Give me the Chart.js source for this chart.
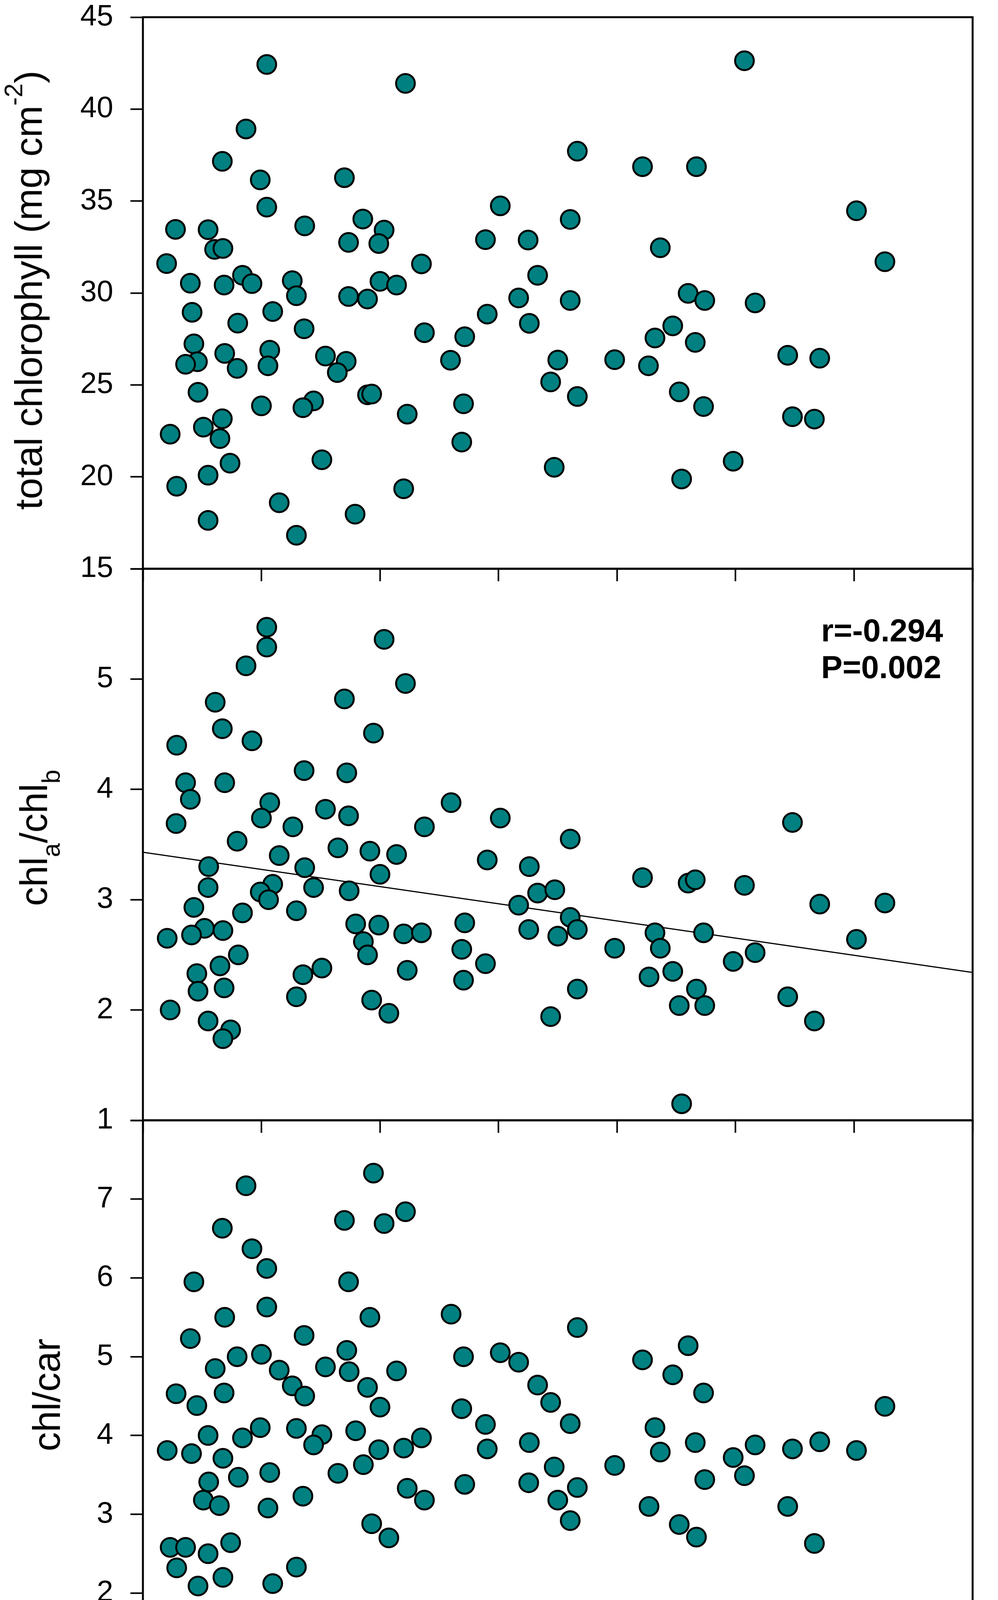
<!DOCTYPE html>
<html>
<head>
<meta charset="utf-8">
<script src="https://cdn.jsdelivr.net/npm/chart.js@4.4.1/dist/chart.umd.min.js"></script>
<style>
  html, body { margin: 0; padding: 0; background: #fff; }
  #wrap { position: relative; width: 2556px; height: 4652px; background: #fff; overflow: hidden; }
  canvas { position: absolute; left: 0; }
  .t { position: absolute; font-family: 'Liberation Sans', Arial, Helvetica, sans-serif; color: #000; white-space: nowrap; }
  .ytitle { font-size: 98px; line-height: 98px; transform: translate(-50%, -50%) rotate(-90deg); }
  .xtitle { font-size: 98px; line-height: 98px; transform: translateX(-50%); }
  .sup { font-size: 64px; line-height: 0; position: relative; top: -50px; }
  .sub { font-size: 64px; line-height: 0; position: relative; top: 33px; }
  .stat { font-size: 82px; line-height: 82px; font-weight: bold; }
</style>
</head>
<body>
<div id="wrap">
  <canvas id="c1" width="2611" height="1576" style="top:-38px;width:2611px;height:1576px"></canvas>
  <canvas id="c2" width="2611" height="1576" style="top:1374px;width:2611px;height:1576px"></canvas>
  <canvas id="c3" width="2611" height="1866" style="top:2786px;width:2611px;height:1866px"></canvas>

  <div class="t ytitle" style="left:73px;top:743px">total chlorophyll (mg cm<span class="sup">-2</span>)</div>
  <div class="t ytitle" style="left:86px;top:2145px">chl<span class="sub">a</span>/chl<span class="sub">b</span></div>
  <div class="t ytitle" style="left:119px;top:3571px">chl/car</div>
  <div class="t xtitle" style="left:1428px;top:4534px">epiphytic chl-a (μg cm<span class="sup">-2</span>)</div>
  <div class="t stat" id="stat1" style="left:2103px;top:1573px"></div>
  <div class="t stat" id="stat2" style="left:2103px;top:1667px"></div>
</div>
<script>
// ---------------- data ----------------
const xRange = [0, 1.4];
const xStep = 0.2;

// panel 1: total chlorophyll vs epiphytic chl-a
const totalX = [0.209,0.443,0.174,0.134,0.198,0.340,0.209,0.055,0.110,0.273,0.371,0.407,0.603,0.121,0.135,0.040,0.347,0.398,0.578,0.650,
  0.470,0.666,0.080,0.137,0.168,0.184,0.252,0.259,0.400,0.428,0.347,0.379,0.634,0.083,0.219,0.581,0.160,0.652,0.272,0.475,
  0.543,0.086,0.092,0.072,0.138,0.214,0.211,0.159,0.308,0.343,0.328,0.519,0.700,0.688,0.093,0.200,0.288,0.270,0.379,0.386,
  0.446,0.541,0.134,0.102,0.046,0.130,0.538,0.694,0.147,0.110,0.302,0.057,0.440,0.230,0.358,0.110,0.259,
  1.015,0.733,0.843,0.934,0.721,1.204,0.873,1.252,0.721,0.920,0.948,1.033,0.894,0.864,0.932,0.796,0.853,1.088,1.142,0.733,
  0.905,0.946,1.096,1.133,0.996,0.909];
const totalY = [42.43,41.40,38.92,37.16,36.15,36.27,34.67,33.46,33.44,33.65,34.02,33.42,34.74,32.37,32.42,31.60,32.75,32.69,32.90,32.88,
  31.58,30.96,30.53,30.43,30.96,30.51,30.67,29.85,30.63,30.43,29.81,29.67,29.73,28.95,28.99,28.85,28.36,28.35,28.05,27.84,
  27.62,27.23,26.26,26.12,26.71,26.89,26.04,25.90,26.57,26.28,25.67,26.34,26.35,25.16,24.60,23.86,24.13,23.76,24.46,24.50,
  23.41,23.97,23.16,22.70,22.32,22.08,21.89,20.52,20.74,20.09,20.93,19.49,19.35,18.59,17.97,17.63,16.82,
  42.63,37.71,36.87,36.87,34.00,34.47,32.46,31.70,29.59,29.98,29.59,29.46,28.21,27.55,27.31,26.37,26.04,26.61,26.45,24.37,
  24.62,23.82,23.27,23.14,20.85,19.88];

// panel 2: chl a / chl b
const ratioX = [0.209,0.209,0.407,0.174,0.443,0.122,0.340,0.134,0.184,0.389,0.057,0.272,0.344,0.072,0.138,0.080,0.214,0.520,0.308,0.347,
  0.200,0.603,0.056,0.253,0.475,0.159,0.329,0.383,0.428,0.230,0.581,0.652,0.111,0.273,0.400,0.110,0.288,0.219,0.198,0.212,
  0.348,0.666,0.695,0.634,0.086,0.259,0.168,0.359,0.398,0.543,0.104,0.135,0.082,0.041,0.440,0.470,0.651,0.372,0.379,0.538,
  0.161,0.130,0.578,0.091,0.302,0.270,0.446,0.093,0.137,0.541,0.259,0.386,0.046,0.415,0.688,0.110,0.148,0.135,
  1.096,0.721,0.843,0.920,0.932,1.015,1.142,1.252,0.721,0.733,0.700,0.864,0.946,0.796,0.873,1.204,1.033,0.996,0.894,0.854,
  0.934,0.733,0.905,0.948,1.088,1.133,0.909];
const ratioY = [5.47,5.29,5.36,5.12,4.96,4.79,4.82,4.55,4.44,4.51,4.40,4.17,4.15,4.06,4.06,3.91,3.88,3.88,3.82,3.76,
  3.74,3.74,3.69,3.66,3.66,3.53,3.47,3.44,3.41,3.40,3.36,3.30,3.30,3.29,3.23,3.11,3.11,3.14,3.07,3.00,
  3.08,3.06,3.09,2.95,2.93,2.90,2.88,2.78,2.77,2.79,2.74,2.72,2.68,2.65,2.69,2.70,2.73,2.62,2.50,2.55,
  2.50,2.40,2.42,2.33,2.38,2.32,2.36,2.17,2.20,2.27,2.12,2.09,2.00,1.97,1.94,1.90,1.82,1.74,
  3.70,3.55,3.20,3.15,3.18,3.13,2.96,2.97,2.84,2.73,2.67,2.70,2.70,2.56,2.56,2.64,2.52,2.44,2.35,2.30,
  2.19,2.19,2.04,2.04,2.12,1.90,1.15];
// regression line end points
const fitX = [0, 1.4];
const fitY = [3.43, 2.34];
const statLines = ['r=-0.294', 'P=0.002'];

// panel 3: chl / car
const carX = [0.389,0.174,0.443,0.340,0.407,0.134,0.184,0.209,0.086,0.347,0.209,0.138,0.383,0.520,0.272,0.080,0.344,0.159,0.200,0.541,
  0.603,0.634,0.122,0.230,0.308,0.348,0.428,0.252,0.273,0.379,0.666,0.056,0.137,0.091,0.400,0.538,0.688,0.578,0.110,0.198,
  0.259,0.302,0.288,0.168,0.359,0.470,0.041,0.082,0.135,0.398,0.440,0.581,0.652,0.372,0.694,0.329,0.214,0.161,0.111,0.543,
  0.651,0.446,0.700,0.475,0.102,0.129,0.270,0.211,0.721,0.386,0.415,0.046,0.072,0.110,0.148,0.057,0.135,0.093,0.219,0.259,
  0.733,0.920,0.843,0.894,0.946,1.252,0.721,0.864,0.932,0.873,1.033,1.142,1.096,1.204,0.996,0.796,1.015,0.948,0.733,0.854,
  1.088,0.905,0.934,1.133,0.909];
const carY = [7.33,7.17,6.84,6.73,6.69,6.63,6.37,6.12,5.95,5.95,5.63,5.50,5.50,5.54,5.27,5.23,5.08,5.00,5.03,5.00,
  5.05,4.93,4.85,4.83,4.87,4.81,4.82,4.63,4.50,4.61,4.64,4.53,4.54,4.38,4.36,4.34,4.42,4.14,4.00,4.10,
  4.09,4.01,3.88,3.97,4.06,3.97,3.81,3.77,3.71,3.82,3.84,3.83,3.91,3.63,3.60,3.52,3.53,3.47,3.41,3.38,
  3.40,3.33,3.18,3.18,3.18,3.11,3.23,3.08,2.92,2.88,2.70,2.58,2.58,2.50,2.64,2.32,2.20,2.09,2.12,2.33,
  5.37,5.14,4.96,4.77,4.54,4.37,4.15,4.10,3.91,3.79,3.88,3.92,3.83,3.81,3.72,3.62,3.49,3.44,3.34,3.10,
  3.10,2.87,2.71,2.63,1.58];

// ---------------- chart setup ----------------
const FONT = "'Liberation Sans', Arial, Helvetica, sans-serif";
const PLOT_LEFT = 366;
const RIGHT_PAD = 120;   // canvas is 2611 wide -> plot right edge at 2491

function pairs(xs, ys) { return xs.map((x, i) => ({ x: x, y: ys[i] })); }

const framePlugin = {
  id: 'frame',
  afterDatasetsDraw(chart) {
    const a = chart.chartArea;
    const ctx = chart.ctx;
    ctx.save();
    ctx.strokeStyle = '#000';
    ctx.lineWidth = 5;
    ctx.strokeRect(a.left, a.top, a.right - a.left, a.bottom - a.top);
    ctx.restore();
  }
};

function makePanel(id, cfg) {
  const datasets = [{
    data: pairs(cfg.xs, cfg.ys),
    backgroundColor: '#008080',
    borderColor: '#000',
    borderWidth: 5,
    pointRadius: 24,
    pointHoverRadius: 24,
    order: 0
  }];
  if (cfg.lineX) {
    datasets.push({
      data: pairs(cfg.lineX, cfg.lineY),
      showLine: true,
      borderColor: '#000',
      borderWidth: 3,
      pointRadius: 0,
      fill: false,
      tension: 0,
      order: 1
    });
  }
  return new Chart(document.getElementById(id), {
    type: 'scatter',
    data: { datasets: datasets },
    plugins: [framePlugin],
    options: {
      responsive: false,
      devicePixelRatio: 1,
      animation: false,
      events: [],
      layout: { padding: { top: cfg.padTop, right: RIGHT_PAD, bottom: 0, left: 0 } },
      plugins: { legend: { display: false }, tooltip: { enabled: false } },
      scales: {
        x: {
          type: 'linear',
          min: xRange[0], max: xRange[1],
          border: { display: false },
          grid: { display: true, drawOnChartArea: false, drawTicks: true, tickLength: 32, tickWidth: 4, tickColor: '#000' },
          ticks: {
            stepSize: xStep,
            padding: 40,
            color: '#000',
            font: { family: FONT, size: 76, lineHeight: 1 },
            maxRotation: 0, autoSkip: false,
            callback: cfg.showX ? (v) => Number(v).toFixed(1) : () => ''
          },
          afterFit: (s) => { s.height = cfg.xAxisH; }
        },
        y: {
          type: 'linear',
          min: cfg.yMin, max: cfg.yMax,
          border: { display: false },
          grid: { display: true, drawOnChartArea: false, drawTicks: true, tickLength: 32, tickWidth: 4, tickColor: '#000' },
          ticks: {
            stepSize: cfg.yStep,
            padding: 44,
            color: '#000',
            font: { family: FONT, size: 76, lineHeight: 1 },
            autoSkip: false,
            callback: (v) => (cfg.hideMax && v === cfg.yMax) ? '' : String(v)
          },
          afterFit: (s) => { s.width = PLOT_LEFT; }
        }
      }
    }
  });
}

// chart areas: 44-1456, 1456-2868, 2868-4280 (page px)
makePanel('c1', { xs: totalX, ys: totalY, yMin: 15, yMax: 45, yStep: 5, hideMax: false, showX: false, padTop: 82, xAxisH: 82 });
makePanel('c2', { xs: ratioX, ys: ratioY, yMin: 1, yMax: 6, yStep: 1, hideMax: true, showX: false, padTop: 82, xAxisH: 82, lineX: fitX, lineY: fitY });
makePanel('c3', { xs: carX, ys: carY, yMin: 1, yMax: 8, yStep: 1, hideMax: true, showX: true, padTop: 82, xAxisH: 372 });

document.getElementById('stat1').textContent = statLines[0];
document.getElementById('stat2').textContent = statLines[1];
</script>
</body>
</html>
